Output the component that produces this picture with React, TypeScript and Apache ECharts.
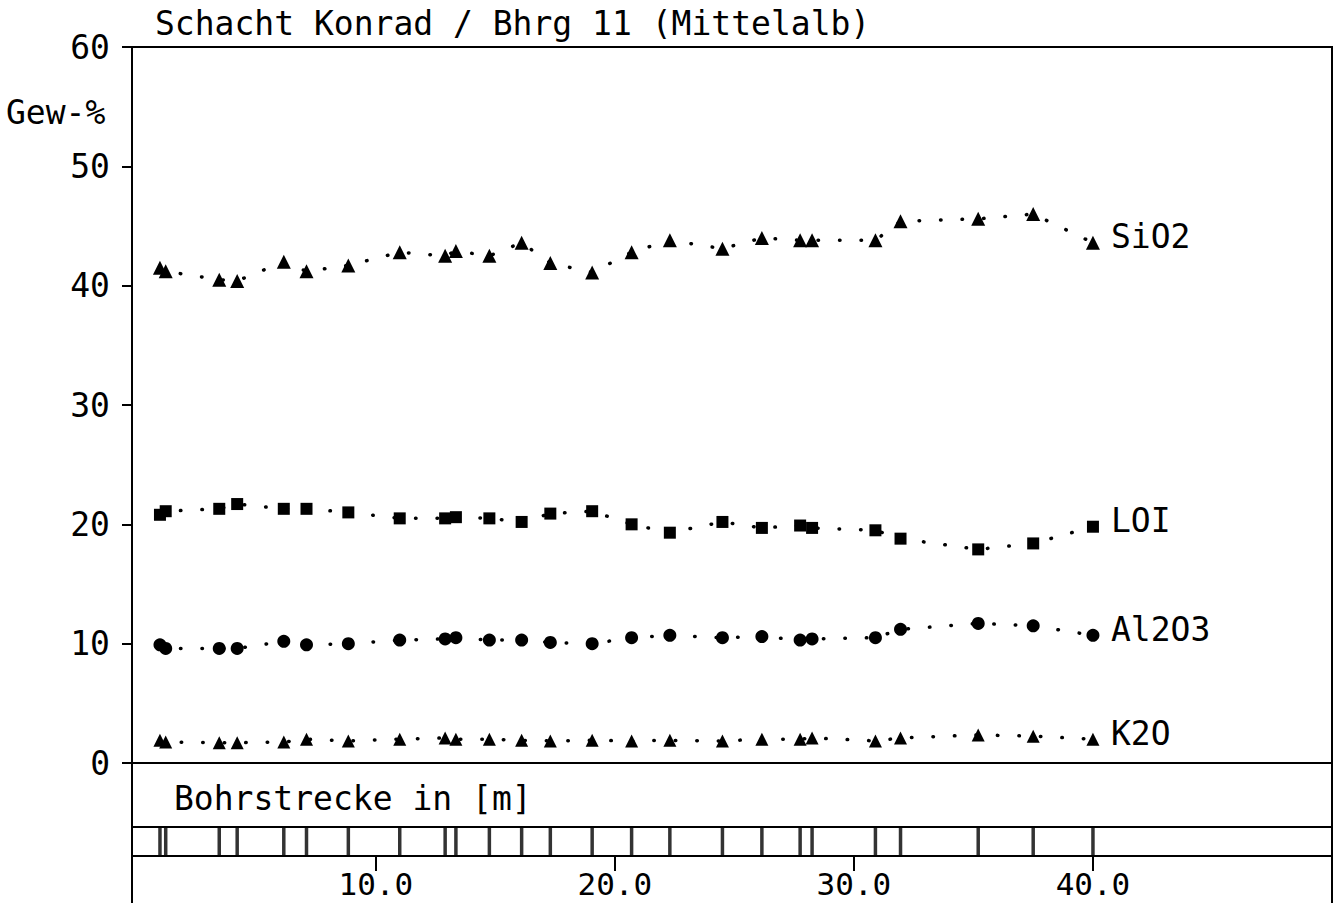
import React, { useEffect, useRef } from "react";
import * as echarts from "echarts";

const depth = [0.97, 1.21, 3.45, 4.2, 6.15, 7.1, 8.85, 11.0, 12.9, 13.35, 14.75, 16.1, 17.3, 19.05, 20.7, 22.3, 24.5, 26.15, 27.75, 28.25, 30.9, 31.95, 35.2, 37.5, 40.0];
const sio2 = [41.5, 41.2, 40.5, 40.4, 42.0, 41.2, 41.7, 42.8, 42.5, 42.9, 42.5, 43.6, 41.9, 41.1, 42.8, 43.8, 43.1, 44.0, 43.8, 43.8, 43.8, 45.4, 45.6, 46.0, 43.6];
const loi = [20.8, 21.1, 21.3, 21.7, 21.3, 21.3, 21.0, 20.5, 20.5, 20.6, 20.5, 20.2, 20.9, 21.1, 20.0, 19.3, 20.2, 19.7, 19.9, 19.7, 19.5, 18.8, 17.9, 18.4, 19.8];
const al2o3 = [9.9, 9.6, 9.6, 9.6, 10.2, 9.9, 10.0, 10.3, 10.4, 10.5, 10.3, 10.3, 10.1, 10.0, 10.5, 10.7, 10.5, 10.6, 10.3, 10.4, 10.5, 11.2, 11.7, 11.5, 10.7];
const k2o = [1.9, 1.75, 1.7, 1.7, 1.75, 2.0, 1.85, 2.0, 2.1, 2.0, 2.0, 1.9, 1.85, 1.9, 1.85, 1.9, 1.85, 2.0, 2.0, 2.1, 1.85, 2.1, 2.35, 2.25, 2.0];
const xTicks = [10, 20, 30, 40];
const title = "Schacht Konrad / Bhrg 11 (Mittelalb)";
const yName = "Gew-%";
const xName = "Bohrstrecke in [m]";

const FONT = "DejaVu Sans Mono";
const FS = 33;

export default function App() {
  const ref = useRef<HTMLDivElement>(null);
  useEffect(() => {
    const chart = echarts.init(ref.current!, null, { renderer: "svg" });
    const mk = (name: string, vals: number[], symbol: string, size: number) => ({
      name,
      type: "line",
      xAxisIndex: 0,
      yAxisIndex: 0,
      data: depth.map((d, i) => [d, vals[i]]),
      symbol,
      symbolSize: size,
      showAllSymbol: true,
      itemStyle: { color: "#000" },
      lineStyle: { color: "#000", width: 3.5, type: [0.5, 21], cap: "round" },
      endLabel: {
        show: true,
        formatter: name,
        color: "#000",
        fontFamily: FONT,
        fontSize: FS,
        distance: 18,
        offset: [0, -6],
      },
    });
    chart.setOption({
      animation: false,
      backgroundColor: "#fff",
      grid: [
        { left: 132, top: 47, width: 1200, height: 716, show: true, borderColor: "#000", borderWidth: 2, backgroundColor: "transparent" },
        { left: 132, top: 827, width: 1200, height: 29, show: true, borderColor: "#000", borderWidth: 2, backgroundColor: "transparent" },
      ],
      xAxis: [
        { type: "value", gridIndex: 0, min: -0.2, max: 50, show: false },
        {
          type: "value",
          gridIndex: 1,
          min: -0.2,
          max: 50,
          axisLine: { show: false, onZero: false },
          splitLine: { show: false },
          axisTick: { show: true, customValues: xTicks, length: 15, lineStyle: { color: "#000", width: 2 } },
          axisLabel: {
            customValues: xTicks,
            formatter: (v: number) => v.toFixed(1),
            color: "#000",
            fontFamily: FONT,
            fontSize: 31,
            lineHeight: 28,
            margin: 14,
          },
        },
      ],
      yAxis: [
        {
          type: "value",
          gridIndex: 0,
          min: 0,
          max: 60,
          interval: 10,
          splitLine: { show: false },
          axisLine: { show: true, onZero: false, lineStyle: { color: "#000", width: 2 } },
          axisTick: { show: true, length: 10, lineStyle: { color: "#000", width: 2 } },
          axisLabel: { color: "#000", fontFamily: FONT, fontSize: FS, margin: 22 },
        },
        { type: "value", gridIndex: 1, min: 0, max: 1, show: false },
      ],
      series: [
        mk("SiO2", sio2, "triangle", 14),
        mk("LOI", loi, "rect", 12),
        mk("Al2O3", al2o3, "circle", 13),
        mk("K2O", k2o, "triangle", 13),
        {
          type: "scatter",
          xAxisIndex: 1,
          yAxisIndex: 1,
          data: depth.map((d) => [d, 0.5]),
          symbol: "rect",
          symbolSize: [3.5, 29],
          itemStyle: { color: "#000" },
        },
      ],
      graphic: [
        { type: "text", left: 155, top: 7, style: { text: title, fill: "#000", font: `${FS}px '${FONT}'` } },
        { type: "text", left: 6, top: 96, style: { text: yName, fill: "#000", font: `${FS}px '${FONT}'` } },
        { type: "text", left: 174, top: 782, style: { text: xName, fill: "#000", font: `${FS}px '${FONT}'` } },
        { type: "line", shape: { x1: 132, y1: 763, x2: 132, y2: 903 }, style: { stroke: "#000", lineWidth: 2 } },
        { type: "line", shape: { x1: 1332, y1: 763, x2: 1332, y2: 903 }, style: { stroke: "#000", lineWidth: 2 } },
      ],
    });
    return () => chart.dispose();
  }, []);
  return (
    <div
      ref={ref}
      style={{ position: "fixed", left: 0, top: 0, width: 1338, height: 903 }}
    />
  );
}
